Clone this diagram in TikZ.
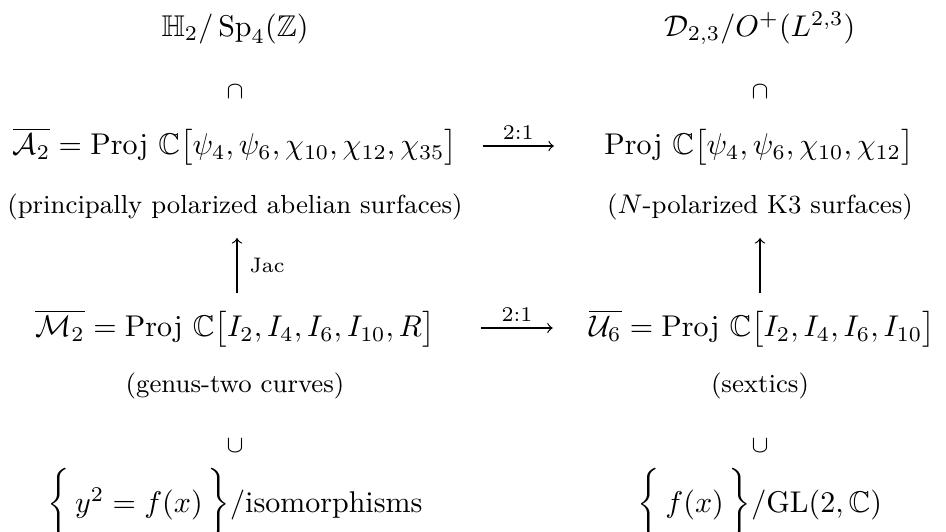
\documentclass[tikz,border=0pt]{standalone}
\usepackage{amsmath,amssymb}
\usetikzlibrary{calc}
\begin{document}
\begin{tikzpicture}[x=0.3333pt,y=-0.3333pt,
  mathtext/.style={inner sep=0pt, anchor=base, font=\fontsize{10}{12}\selectfont},
  parentext/.style={inner sep=0pt, anchor=base, font=\fontsize{8.7}{10}\selectfont},
  labtext/.style={inner sep=0pt, font=\fontsize{7}{8}\selectfont},
  relsym/.style={inner sep=0pt, font=\fontsize{8}{10}\selectfont},
  cdarrow/.style={->, line width=0.4pt}]
\useasboundingbox (0,0) rectangle (946,531);
% row 1
\node[mathtext] (H) at (235,36) {$\mathbb{H}_2/\,\mathrm{Sp}_4(\mathbb{Z})$};
\node[mathtext] (D) at (760,36) {$\mathcal{D}_{2,3}/O^+(L^{2,3})$};
\node[relsym] (capL) at (235,92) {$\cap$};
\node[relsym] (capR) at (760,92) {$\cap$};
% row 2
\node[mathtext] (A) at (235,154.5) {$\overline{\mathcal{A}_2}=\mathrm{Proj}\ \mathbb{C}\bigl[\psi_4,\psi_6,\chi_{10},\chi_{12},\chi_{35}\bigr]$};
\node[mathtext] (P) at (759,154.5) {$\mathrm{Proj}\ \mathbb{C}\bigl[\psi_4,\psi_6,\chi_{10},\chi_{12}\bigr]$};
\node[parentext] (pA) at (235,213) {(principally polarized abelian surfaces)};
\node[parentext] (pK) at (760,213) {($N$-polarized K3 surfaces)};
% row 3
\node[mathtext] (M) at (235,336.5) {$\overline{\mathcal{M}_2}=\mathrm{Proj}\ \mathbb{C}\bigl[I_2,I_4,I_6,I_{10},R\bigr]$};
\node[mathtext] (U) at (762,336.5) {$\overline{\mathcal{U}_6}=\mathrm{Proj}\ \mathbb{C}\bigl[I_2,I_4,I_6,I_{10}\bigr]$};
\node[parentext] (pG) at (235,392) {(genus-two curves)};
\node[parentext] (pS) at (760,392) {(sextics)};
\node[relsym] (cupL) at (235,446) {$\cup$};
\node[relsym] (cupR) at (760,446) {$\cup$};
% row 4
\node[mathtext] (Y) at (235,512) {$\biggl\{\,y^2=f(x)\,\biggr\}/\text{isomorphisms}$};
\node[mathtext] (F) at (760,512) {$\biggl\{\,f(x)\,\biggr\}/\mathrm{GL}(2,\mathbb{C})$};
% horizontal arrows
\draw[cdarrow] ($(A.base east)+(25,-8.5)$) -- ($(P.base west)+(-50,-8.5)$)
  node[labtext, midway, above=2pt] (l1) {$2{:}1$};
\draw[cdarrow] ($(M.base east)+(46,-8.5)$) -- ($(U.base west)+(-36,-8.5)$)
  node[labtext, midway, above=2pt] (l2) {$2{:}1$};
% vertical arrows
\draw[cdarrow] ($(capL |- M.north)+(2,-16)$) -- ($(capL |- pA.south)+(2,18)$)
  node[labtext, midway, right=4pt] (jac) {Jac};
\draw[cdarrow] ($(capR |- U.north)+(0,-16)$) -- ($(capR |- pK.south)+(0,18)$);
\end{tikzpicture}
\end{document}
